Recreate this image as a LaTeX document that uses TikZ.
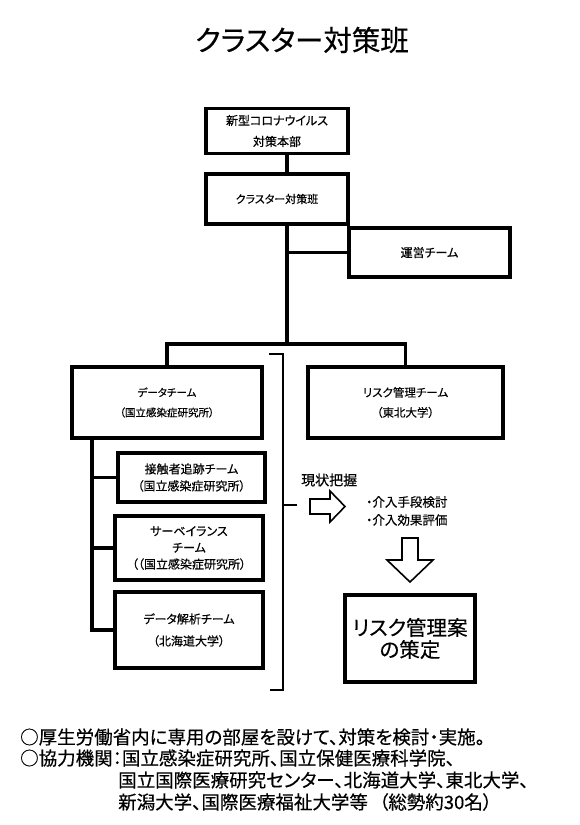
\documentclass[tikz,border=0pt]{standalone}
\usepackage{fontspec}
\newfontfamily\jp[RawFeature=+palt, FakeBold=0.4]{Noto Sans CJK JP}
\newcommand{\jpsize}[2]{\jp\fontsize{#1}{#2}\selectfont}
\tikzset{
	orgbox/.style={draw, line width=3.4pt, fill=white, inner sep=0pt, align=center},
	link/.style={line width=3.4pt},
	hollow/.style={draw, line width=1.6pt, line join=miter, fill=white},
	note/.style={inner sep=0pt, anchor=west, font=\jpsize{18.5}{20}},
}

\begin{document}
\begin{tikzpicture}[x=1pt,y=-1pt]
	\useasboundingbox (0,0) rectangle (580,825);
	\node[font=\jpsize{28.5}{30}] (title) at (302,40) {クラスター対策班};

	\node[orgbox, minimum width=142, minimum height=45, font=\jpsize{12}{21}] (hq) at (277,131) {新型コロナウイルス\\対策本部};
	\node[orgbox, minimum width=142, minimum height=50, font=\jpsize{11}{21}] (cluster) at (277,199) {クラスター対策班};
	\node[orgbox, minimum width=161, minimum height=49, font=\jpsize{12}{21}] (ops) at (429.5,252.5) {運営チーム};
	\node[orgbox, minimum width=190, minimum height=71, font=\jpsize{10.5}{20}] (data) at (167,402.5) {データチーム\\（国立感染症研究所）};
	\node[orgbox, minimum width=195, minimum height=71, font=\jpsize{11.5}{20}] (risk) at (405.5,402.5) {リスク管理チーム\\（東北大学）};
	\node[orgbox, minimum width=147, minimum height=49, font=\jpsize{12}{17}] (trace) at (191.5,477.5) {接触者追跡チーム\\（国立感染症研究所）};
	\node[orgbox, minimum width=148, minimum height=64, font=\jpsize{12}{16.5}] (surv) at (189,548) {サーベイランス\\チーム\\（（国立感染症研究所）};
	\node[orgbox, minimum width=148, minimum height=76, font=\jpsize{12}{22}] (anal) at (189,630) {データ解析チーム\\（北海道大学）};
	\node[orgbox, minimum width=130, minimum height=87, font=\jpsize{20.5}{22}] (plan) at (410,638.5) {リスク管理案\\の策定};

	\coordinate (spine) at (287,344);
	\coordinate (lspine) at (92,630);
	\draw[link] (hq.south -| spine) -- (cluster.north -| spine);
	\draw[link] (cluster.south -| spine) -- (spine);
	\draw[link] (ops.west -| spine) -- (ops.west);
	\draw[link] (data.north) |- (spine) -| (risk.north);
	\draw[link] (data.south -| lspine) |- (anal.west);
	\draw[link] (trace.west -| lspine) -- (trace.west);
	\draw[link] (surv.west -| lspine) -- (surv.west);

	\coordinate (brtop) at (269,354);
	\coordinate (brbot) at (270,690);
	\coordinate (brace) at (283,505);
	\coordinate (brtip) at (297,505);
	\draw[line width=1.6pt] (brtop) -| (brace |- brbot) -- (brbot);
	\draw[line width=1.6pt] (brace) -- (brtip);

	\node[font=\jpsize{14}{16}, inner sep=0pt, anchor=west] (grasp) at (301,480) {現状把握};
	\node[font=\jpsize{12.5}{18}, inner sep=0pt, anchor=west, align=left] (tasks) at (366,511) {・介入手段検討\\・介入効果評価};
	\draw[hollow] (310,499) -- (330,499) -- (330,491) -- (345,506.5) -- (330,522) -- (330,514) -- (310,514) -- cycle;
	\draw[hollow] (402,538) -- (418,538) -- (418,560) -- (433,560) -- (410,582) -- (387,560) -- (402,560) -- cycle;

	\node[note] (note1) at (20,737) {○厚生労働省内に専用の部屋を設けて、対策を検討・実施。};
	\node[note] (note2) at (20,758) {○協力機関：国立感染症研究所、国立保健医療科学院、};
	\node[note] (note3) at (118,780) {国立国際医療研究センター、北海道大学、東北大学、};
	\node[note] (note4) at (118,802) {新潟大学、国際医療福祉大学等\hspace{0.6em}（総勢約30名）};
\end{tikzpicture}
\end{document}
